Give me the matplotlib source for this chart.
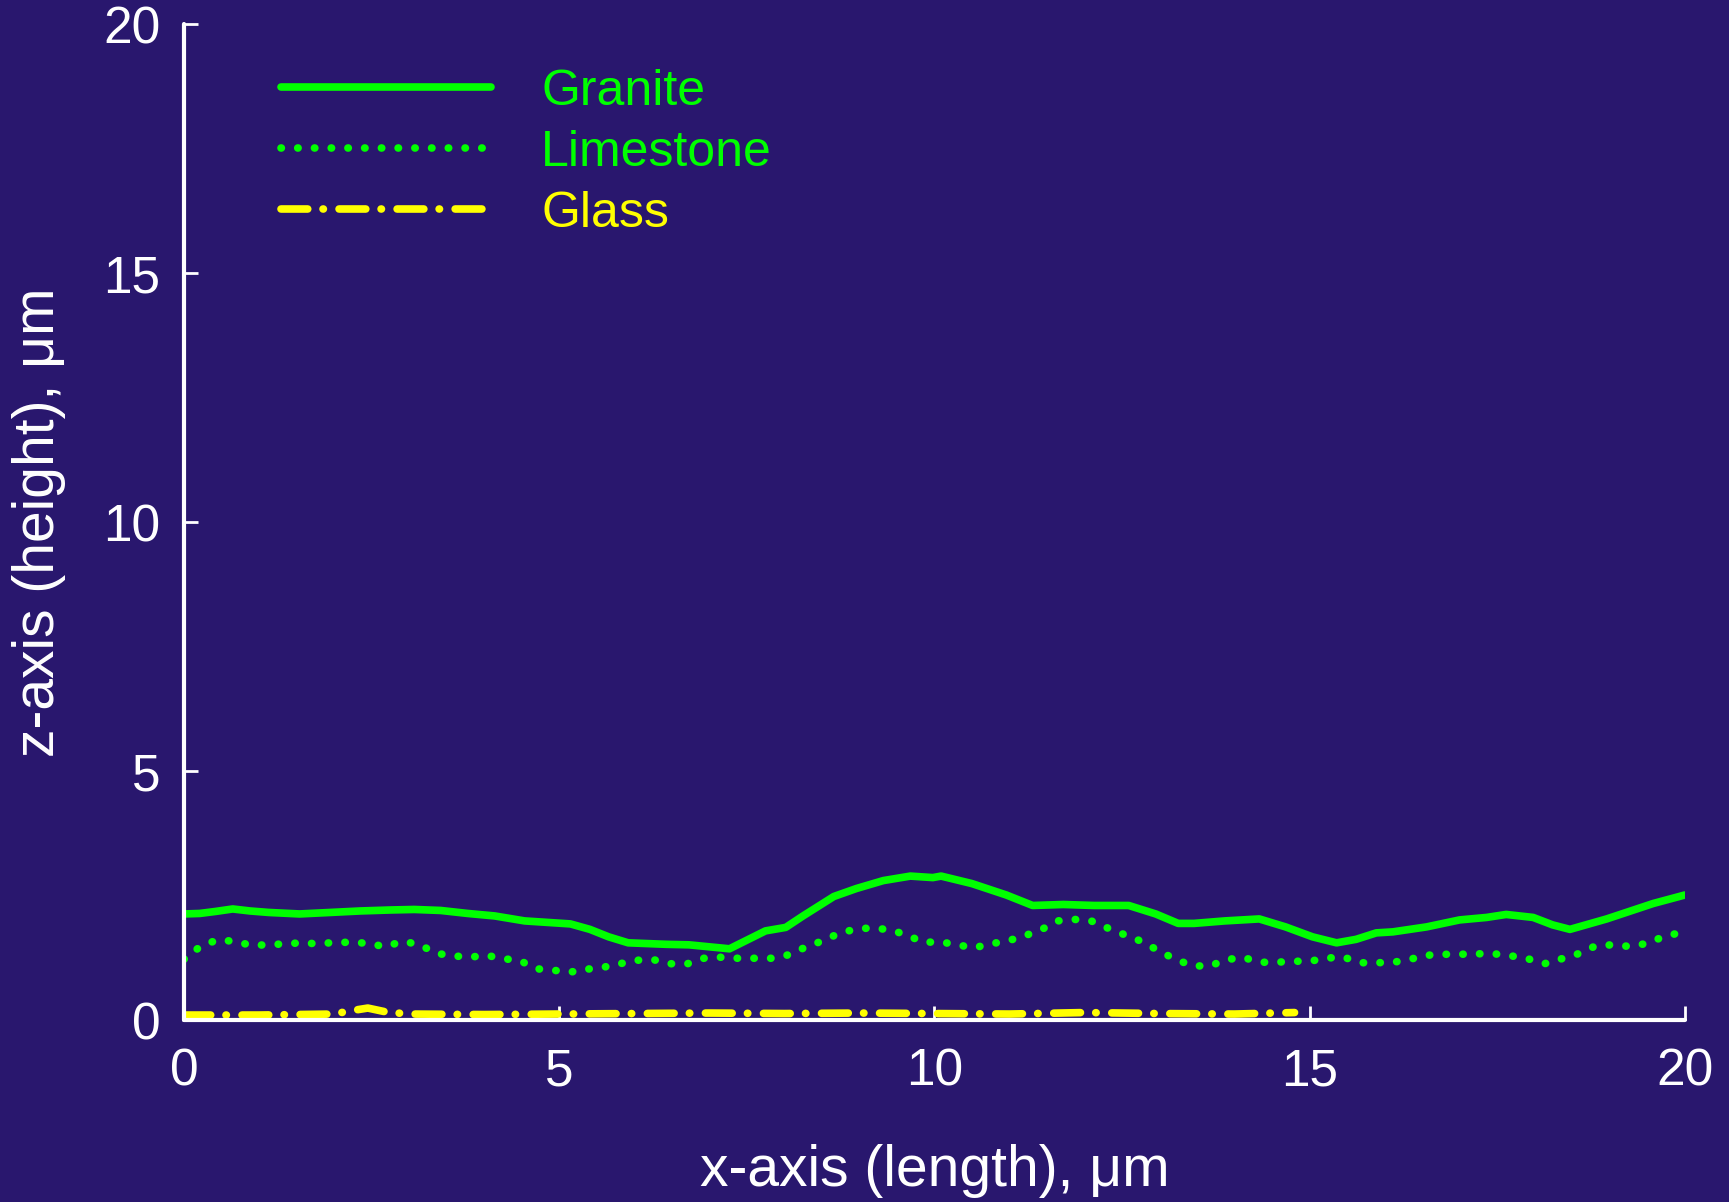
import numpy as np
import matplotlib
matplotlib.use('Agg')
import matplotlib.pyplot as plt

# surface profiles
granite_x = [0, 0.21, 0.42, 0.65, 0.88, 1.13, 1.54, 1.95, 2.35, 2.76, 3.07, 3.42, 3.78,
             4.14, 4.54, 5.15, 5.41, 5.66, 5.92, 6.43, 6.73, 7.27, 7.55, 7.75, 8.02,
             8.25, 8.66, 8.96, 9.32, 9.68, 9.98, 10.09, 10.5, 10.96, 11.31, 11.72,
             12.13, 12.59, 12.95, 13.25, 13.46, 13.87, 14.33, 14.68, 15.04, 15.36,
             15.62, 15.89, 16.11, 16.56, 17.0, 17.36, 17.62, 17.98, 18.24, 18.47,
             18.96, 19.18, 19.58, 20.0]
granite_z = [2.13, 2.14, 2.18, 2.23, 2.19, 2.16, 2.13, 2.16, 2.19, 2.21, 2.22, 2.20, 2.14,
             2.09, 1.99, 1.93, 1.82, 1.67, 1.55, 1.52, 1.51, 1.43, 1.64, 1.79, 1.86,
             2.09, 2.48, 2.64, 2.80, 2.89, 2.86, 2.89, 2.74, 2.51, 2.30, 2.32,
             2.30, 2.30, 2.13, 1.94, 1.94, 1.99, 2.03, 1.87, 1.67, 1.55,
             1.62, 1.75, 1.77, 1.87, 2.01, 2.06, 2.12, 2.06, 1.91, 1.82,
             2.03, 2.14, 2.34, 2.51]

lime_x = [0, 0.23, 0.45, 0.67, 0.9, 1.12, 1.34, 1.57, 1.79, 2.02, 2.24, 2.46, 2.68,
          2.91, 3.13, 3.36, 3.58, 3.80, 4.03, 4.25, 4.47, 4.69, 4.92, 5.14, 5.37,
          5.59, 5.81, 6.03, 6.26, 6.48, 6.71, 6.93, 7.15, 7.38, 7.60, 7.83, 8.06,
          8.28, 8.51, 8.73, 8.96, 9.18, 9.41, 9.63, 9.85, 10.08, 10.30, 10.53,
          10.75, 10.98, 11.20, 11.42, 11.64, 11.87, 12.09, 12.32, 12.54, 12.76,
          12.99, 13.21, 13.44, 13.66, 13.89, 14.11, 14.33, 14.56, 14.78, 15.0,
          15.22, 15.44, 15.67, 15.89, 16.12, 16.34, 16.56, 16.79, 17.01, 17.24,
          17.46, 17.68, 17.91, 18.13, 18.36, 18.58, 18.80, 19.02, 19.25, 19.47,
          19.70, 19.92]
lime_z = [1.22, 1.49, 1.61, 1.58, 1.50, 1.51, 1.53, 1.55, 1.53, 1.56, 1.56, 1.54, 1.47,
          1.58, 1.52, 1.34, 1.29, 1.26, 1.30, 1.23, 1.20, 1.03, 1.00, 0.96, 1.02,
          1.06, 1.13, 1.20, 1.21, 1.13, 1.13, 1.24, 1.26, 1.24, 1.24, 1.24, 1.31,
          1.46, 1.59, 1.74, 1.83, 1.85, 1.81, 1.71, 1.56, 1.57, 1.51, 1.45,
          1.53, 1.59, 1.69, 1.81, 1.99, 2.02, 1.99, 1.84, 1.71, 1.58,
          1.39, 1.22, 1.09, 1.08, 1.21, 1.26, 1.16, 1.16, 1.18, 1.18,
          1.24, 1.27, 1.15, 1.15, 1.16, 1.22, 1.30, 1.32, 1.32, 1.33,
          1.33, 1.29, 1.23, 1.13, 1.23, 1.33, 1.48, 1.51, 1.48, 1.53,
          1.66, 1.75]

glass_x = [0, 1.0, 2.0, 2.2, 2.45, 2.7, 3.0, 4.0, 5.0, 6.0, 7.0, 8.0, 9.0, 10.0,
           11.0, 12.0, 12.5, 13.0, 14.0, 14.8]
glass_z = [0.10, 0.10, 0.12, 0.18, 0.24, 0.16, 0.12, 0.11, 0.12, 0.13, 0.14, 0.13,
           0.14, 0.13, 0.12, 0.15, 0.14, 0.13, 0.12, 0.15]

labels = ['Granite', 'Limestone', 'Glass']
xticks = [0, 5, 10, 15, 20]
yticks = [0, 5, 10, 15, 20]

bg = '#29176e'
green = '#00ff00'
yellow = '#ffff00'

plt.rcParams['font.family'] = ['Liberation Sans', 'DejaVu Sans']

fig = plt.figure(figsize=(17.29, 12.02), dpi=100, facecolor=bg)
ax = fig.add_axes([0.1064, 0.1514, 0.868, 0.8286], facecolor=bg)

lw = 5.5
ax.plot(granite_x, granite_z, color=green, lw=lw, solid_capstyle='round',
        solid_joinstyle='round', label=labels[0])
ax.plot(lime_x, lime_z, color=green, lw=lw, linestyle=(0, (0.05, 2.14)),
        dash_capstyle='round', label=labels[1])
ax.plot(glass_x, glass_z, color=yellow, lw=lw, linestyle=(0, (3.5, 2.0, 0.05, 2.05)),
        dash_capstyle='round', label=labels[2])

ax.set_xlim(0, 20)
ax.set_ylim(0, 20)
ax.set_xticks(xticks)
ax.set_yticks(yticks)

for s in ['top', 'right']:
    ax.spines[s].set_visible(False)
for s in ['left', 'bottom']:
    ax.spines[s].set_color('white')
    ax.spines[s].set_linewidth(3)
    ax.spines[s].set_capstyle('round')

ax.tick_params(axis='both', direction='in', length=10, width=2, colors='white',
               labelsize=37)
ax.tick_params(axis='x', pad=20)
ax.tick_params(axis='y', pad=17)

ax.set_xlabel('x-axis (length), \u03bcm', fontsize=41, color='white', labelpad=34)
ax.set_ylabel('z-axis (height), \u03bcm', fontsize=41, color='white', labelpad=27)

leg = ax.legend(loc='upper left', bbox_to_anchor=(0.048, 0.98), frameon=False,
                fontsize=36, handlelength=4.2, handletextpad=1.0, labelspacing=0.3,
                borderpad=0)
for t, c in zip(leg.get_texts(), [green, green, yellow]):
    t.set_color(c)

fig.savefig('out.png', dpi=100, facecolor=bg)
